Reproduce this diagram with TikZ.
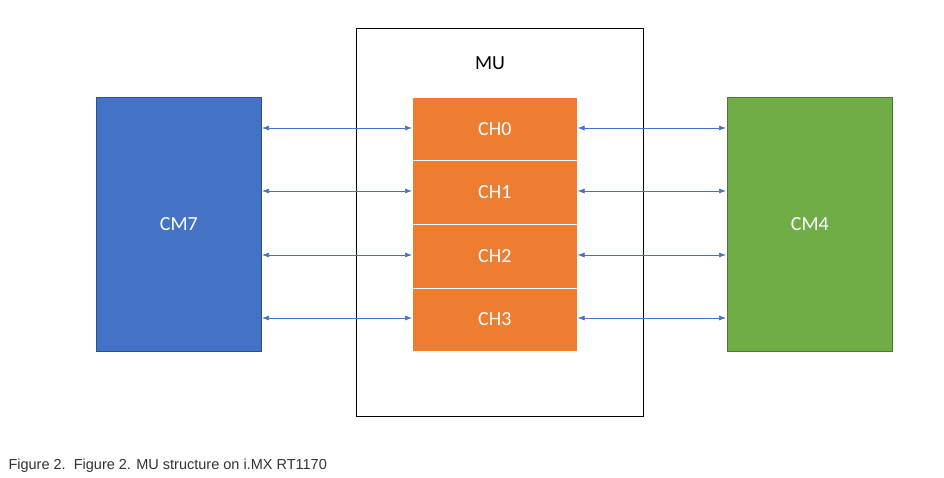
\documentclass[tikz,border=0pt]{standalone}
\usepackage{fontspec}
\usetikzlibrary{arrows.meta}
\setmainfont{Carlito}
\newfontfamily\capfont{Liberation Sans}
\begin{document}
\begin{tikzpicture}[x=1pt,y=-1pt,
  core/.style={draw=#1!70!black, line width=0.8pt, minimum width=165pt, minimum height=254pt, anchor=north west, inner sep=0pt, text=white, font=\fontsize{20}{24}\selectfont},
  chbox/.style={fill=orangeC, draw=white, line width=0.6pt, minimum width=165pt, minimum height=63.5pt, anchor=north west, inner sep=0pt, text=white, font=\fontsize{20}{24}\selectfont},
  link/.style={draw=blueL, line width=0.7pt, {Latex[length=7pt,width=5pt]}-{Latex[length=7pt,width=5pt]}}]
\definecolor{blueC}{HTML}{4472C4}
\definecolor{greenC}{HTML}{70AD47}
\definecolor{orangeC}{HTML}{ED7D31}
\definecolor{blueL}{HTML}{4472C4}
\useasboundingbox (0,0) rectangle (944,478);
\fill[white] (0,0) rectangle (944,478);
\node[core=blueC, fill=blueC] (cm7) at (96,97) {CM7};
\node[core=greenC, fill=greenC] (cm4) at (727,97) {CM4};
\node[draw=black, line width=1pt, minimum width=287pt, minimum height=388pt, anchor=north west, inner sep=0pt] (mu) at (356,28) {};
\node[font=\fontsize{20}{24}\selectfont] (mulabel) at (490,63) {MU};
\node[chbox] (ch0) at (412,97) {CH0};
\node[chbox] (ch1) at (412,160.5) {CH1};
\node[chbox] (ch2) at (412,224) {CH2};
\node[chbox] (ch3) at (412,287.5) {CH3};
\foreach \c/\y in {ch0/128,ch1/191,ch2/255,ch3/318}{
  \coordinate (l\c) at (262,\y);
  \coordinate (r\c) at (726,\y);
  \draw[link] (l\c) -- (\c.west |- l\c);
  \draw[link] (\c.east |- r\c) -- (r\c);
}
\node[anchor=west, font=\capfont\fontsize{14.5}{17}\selectfont, text=black!80] (cap) at (5,466) {Figure 2.\ \ Figure 2. MU structure on i.MX RT1170};
\end{tikzpicture}
\end{document}
